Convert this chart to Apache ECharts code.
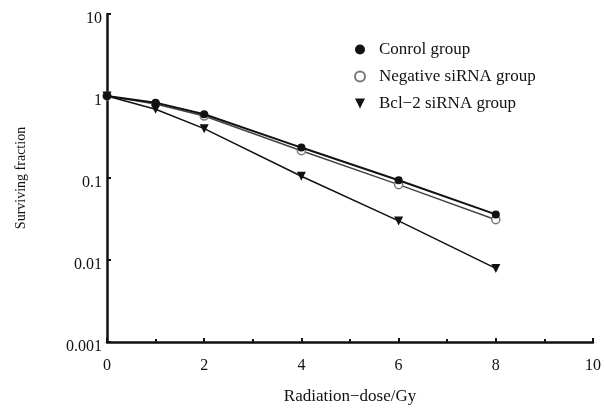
<!DOCTYPE html>
<html><head><meta charset="utf-8">
<script src="https://cdn.jsdelivr.net/npm/echarts@6/dist/echarts.min.js"></script>
<style>html,body{margin:0;padding:0;background:#fff}#c{width:604px;height:410px}</style>
</head><body><div id="c"></div>
<script>
var doses = [0, 1, 2, 4, 6, 8];
var controlGroup = [1.0, 0.83, 0.60, 0.235, 0.094, 0.036];
var negativeGroup = [1.0, 0.80, 0.57, 0.215, 0.083, 0.031];
var bcl2Group = [1.0, 0.69, 0.40, 0.105, 0.030, 0.0079];
var seriesNames = ['Conrol group', 'Negative siRNA group', 'Bcl\u22122 siRNA group'];
var yTickLabels = {'10':'10','1':'1','0.1':'0.1','0.01':'0.01','0.001':'0.001'};

function pairs(v){ return doses.map(function(d,i){ return [d, v[i]]; }); }
var font = '"Liberation Serif", "DejaVu Serif", serif';
var chart = echarts.init(document.getElementById('c'));
chart.setOption({
  animation: false,
  backgroundColor: '#fff',
  textStyle: { fontFamily: font, color: '#111' },
  grid: { left: 107, right: 10, top: 14, bottom: 66, containLabel: false },
  legend: {
    orient: 'vertical', left: 354, top: 41, padding: 0, itemGap: 10, itemWidth: 10, itemHeight: 10,
    textStyle: { fontFamily: font, fontSize: 17, color: '#111', padding: [0, 0, 0, 9] },
    data: [
      { name: seriesNames[0], icon: 'circle' },
      { name: seriesNames[1], icon: 'circle' },
      { name: seriesNames[2], icon: 'path://M0,0 L10,0 L5,10 Z' }
    ]
  },
  xAxis: {
    type: 'value', min: 0, max: 10, interval: 2,
    name: 'Radiation\u2212dose/Gy', nameLocation: 'middle', nameGap: 46,
    nameTextStyle: { fontFamily: font, fontSize: 17, color: '#111' },
    axisLine: { onZero: false, lineStyle: { color: '#111', width: 2.5 } },
    axisTick: { inside: true, length: 4, lineStyle: { color: '#111', width: 2 } },
    minorTick: { show: true, splitNumber: 2, length: 3, lineStyle: { color: '#111', width: 2 } },
    axisLabel: { fontFamily: font, fontSize: 16, color: '#111', margin: 16 },
    splitLine: { show: false }
  },
  yAxis: {
    type: 'log', logBase: 10, min: 0.001, max: 10,
    name: 'Surviving fraction', nameLocation: 'middle', nameGap: 79, nameRotate: 90,
    nameTextStyle: { fontFamily: font, fontSize: 14, color: '#111' },
    axisLine: { onZero: false, lineStyle: { color: '#111', width: 2.5 } },
    axisTick: { inside: true, length: 4, lineStyle: { color: '#111', width: 2 } },
    axisLabel: { fontFamily: font, fontSize: 16, color: '#111', margin: 5, verticalAlign: 'top', lineHeight: 10,
      formatter: function(v){ var k = String(+v.toPrecision(3)); return yTickLabels[k] !== undefined ? yTickLabels[k] : k; } },
    splitLine: { show: false }
  },
  series: [
    { name: seriesNames[0], type: 'line', data: pairs(controlGroup), symbol: 'circle', symbolSize: 8,
      itemStyle: { color: '#111' }, lineStyle: { color: '#111', width: 2 }, z: 3 },
    { name: seriesNames[1], type: 'line', data: pairs(negativeGroup), symbol: 'circle', symbolSize: 8,
      itemStyle: { color: '#fff', borderColor: '#777', borderWidth: 1.5 }, lineStyle: { color: '#444', width: 1.5 }, z: 2 },
    { name: seriesNames[2], type: 'line', data: pairs(bcl2Group), symbol: 'triangle', symbolRotate: 180, symbolSize: 9,
      itemStyle: { color: '#111' }, lineStyle: { color: '#111', width: 1.5 }, z: 2 }
  ]
});
</script></body></html>
